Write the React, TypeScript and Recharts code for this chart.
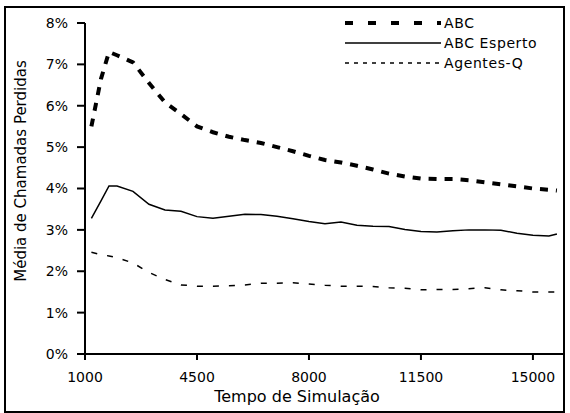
import { LineChart, Line, XAxis, YAxis } from 'recharts';

const tempo = [1200, 1500, 1750, 2000, 2500, 3000, 3500, 4000, 4500, 5000, 5500, 6000, 6500, 7000, 7500, 8000, 8500, 9000, 9500, 10000, 10500, 11000, 11500, 12000, 12500, 13000, 13500, 14000, 14500, 15000, 15500, 15750];
const abc = [5.5, 6.65, 7.3, 7.22, 7.05, 6.55, 6.08, 5.8, 5.5, 5.36, 5.25, 5.17, 5.1, 5.0, 4.9, 4.79, 4.69, 4.63, 4.55, 4.46, 4.36, 4.29, 4.24, 4.23, 4.23, 4.2, 4.15, 4.1, 4.05, 4.0, 3.97, 3.95];
const abcEsperto = [3.28, 3.7, 4.06, 4.06, 3.93, 3.62, 3.48, 3.45, 3.32, 3.28, 3.33, 3.38, 3.37, 3.33, 3.27, 3.2, 3.15, 3.19, 3.11, 3.09, 3.08, 3.01, 2.96, 2.95, 2.98, 3.0, 3.0, 2.99, 2.92, 2.87, 2.85, 2.9];
const agentesQ = [2.46, 2.4, 2.37, 2.33, 2.2, 1.97, 1.8, 1.67, 1.64, 1.64, 1.65, 1.67, 1.71, 1.71, 1.72, 1.69, 1.66, 1.64, 1.64, 1.63, 1.6, 1.59, 1.55, 1.56, 1.56, 1.58, 1.6, 1.55, 1.53, 1.5, 1.5, 1.5];
const xTicks = [1000, 4500, 8000, 11500, 15000];
const yTicks = [0, 1, 2, 3, 4, 5, 6, 7, 8];

const data = tempo.map((t, i) => ({
  tempo: t,
  abc: abc[i],
  esperto: abcEsperto[i],
  agentes: agentesQ[i],
}));

const font = 'DejaVu Sans, sans-serif';

const series = [
  { key: 'abc', name: 'ABC', width: 4, dash: '8 8', legendDash: '8 15' },
  { key: 'esperto', name: 'ABC Esperto', width: 1.5, dash: undefined, legendDash: undefined },
  { key: 'agentes', name: 'Agentes-Q', width: 1.5, dash: '6 10', legendDash: '4 5' },
];

const App = () => {
  return (
    <div style={{ position: 'absolute', left: 0, top: 0, width: 570, height: 413, background: '#fff' }}>
      <div style={{ position: 'absolute', left: 4, top: 6, width: 557, height: 403, border: '2px solid #000' }} />
      <div style={{ position: 'absolute', left: 0, top: 0 }}>
        <LineChart width={570} height={413} data={data} margin={{ top: 23, right: 7, left: 0, bottom: 0 }}>
          <XAxis
            dataKey="tempo"
            type="number"
            domain={[1000, 15940]}
            ticks={xTicks}
            tickSize={6}
            tickMargin={12}
            height={59}
            stroke="#000"
            strokeWidth={2}
            tick={{ fill: '#000', fontSize: 14, fontFamily: font }}
            label={{
              content: () => (
                <text x={297} y={402} textAnchor="middle" fontSize={16} fontFamily={font} fill="#000">
                  Tempo de Simulação
                </text>
              ),
            }}
          />
          <YAxis
            type="number"
            domain={[0, 8]}
            ticks={yTicks}
            tickFormatter={(v: number) => `${v}%`}
            width={85}
            tickSize={8}
            tickMargin={9}
            stroke="#000"
            strokeWidth={2}
            tick={{ fill: '#000', fontSize: 14, fontFamily: font }}
            label={{
              content: () => (
                <text x={26} y={171} transform="rotate(-90 26 171)" textAnchor="middle" fontSize={15} fontFamily={font} fill="#000">
                  Média de Chamadas Perdidas
                </text>
              ),
            }}
          />
          {series.map((s) => (
            <Line
              key={s.key}
              dataKey={s.key}
              name={s.name}
              type="linear"
              stroke="#000"
              strokeWidth={s.width}
              strokeDasharray={s.dash}
              dot={false}
              isAnimationActive={false}
            />
          ))}
        </LineChart>
      </div>

      {/* legend box in the top right, like the reference */}
      <svg style={{ position: 'absolute', left: 345, top: 15 }} width={220} height={62}>
        {series.map((s, i) => (
          <g key={s.key}>
            <line x1={0} x2={96} y1={8 + i * 20} y2={8 + i * 20} stroke="#000" strokeWidth={s.width === 4 ? 4 : 1.5} strokeDasharray={s.legendDash} />
            <text x={99} y={13 + i * 20} fontSize={14} fontFamily={font} letterSpacing={0.6} fill="#000">{s.name}</text>
          </g>
        ))}
      </svg>
    </div>
  );
};

export default App;
